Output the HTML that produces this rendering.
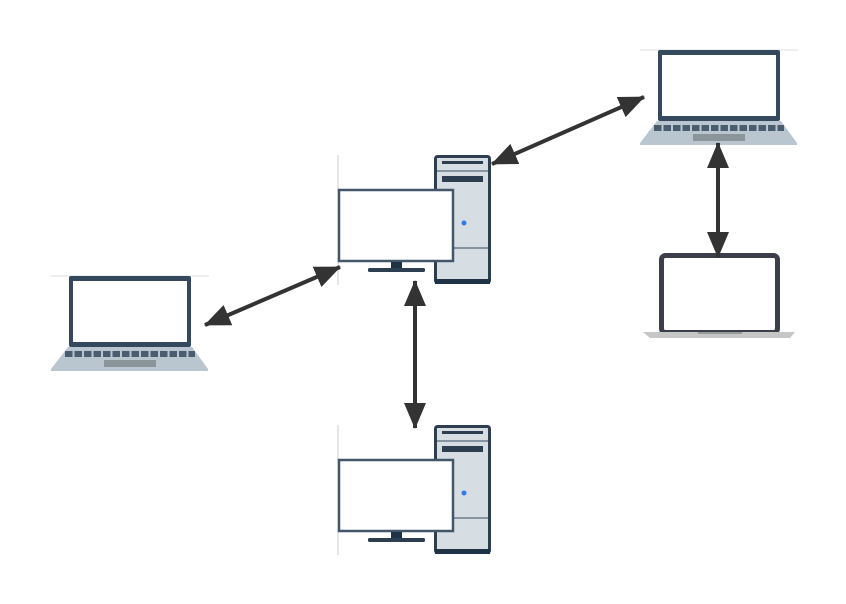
<!DOCTYPE html>
<html><head><style>html,body{margin:0;padding:0;background:#fff;}svg{display:block}</style></head>
<body>
<svg width="846" height="604" viewBox="0 0 846 604" xmlns="http://www.w3.org/2000/svg">
<defs>
<marker id="ah" markerUnits="userSpaceOnUse" markerWidth="26" markerHeight="22" refX="25" refY="11" orient="auto-start-reverse">
<path d="M0,0 L26,11 L0,22 Z" fill="#333"/>
</marker>
<g id="desk">
<line x1="-96" y1="0" x2="-96" y2="130" stroke="#ccc" stroke-width="1"/>
<rect x="1.5" y="1.5" width="54" height="126" rx="2" fill="#d6dde3" stroke="#2c3e50" stroke-width="3"/>
<rect x="1" y="124" width="55" height="5" fill="#1f3347"/>
<rect x="8" y="6" width="41" height="3" fill="#2c3e50"/>
<line x1="3" y1="16" x2="54" y2="16" stroke="#6b7c8a" stroke-width="1.5"/>
<rect x="8" y="21" width="41" height="6" fill="#2c3e50"/>
<circle cx="30" cy="68" r="2.5" fill="#2f7bf0"/>
<line x1="3" y1="93" x2="54" y2="93" stroke="#6b7c8a" stroke-width="1.5"/>
<rect x="-95" y="35" width="114" height="71" fill="#fff" stroke="#44576a" stroke-width="2.5"/>
<rect x="-43" y="107" width="11" height="8" fill="#1f3347"/>
<rect x="-66" y="113" width="57" height="4" rx="1.5" fill="#2c3e50"/>
</g>
<g id="lap">
<line x1="-18" y1="0" x2="140" y2="0" stroke="#ddd" stroke-width="1"/>
<rect x="0" y="0" width="122" height="71" rx="2" fill="#34495e"/>
<rect x="4" y="5" width="114" height="61" fill="#fff"/>
<path d="M-1,71 L123,71 L139,93 L139,95 L-18,95 L-18,93 Z" fill="#b9c6d0"/>
<line x1="-4" y1="78" x2="126" y2="78" stroke="#4a5d6e" stroke-width="6" stroke-dasharray="7.5,2"/>
<rect x="35" y="84" width="52" height="7" fill="#8a9599"/>
</g>
</defs>
<use href="#desk" x="434" y="155"/>
<use href="#desk" x="434" y="425"/>
<use href="#lap" x="658" y="50"/>
<use href="#lap" x="69" y="276"/>
<rect x="661.5" y="255.5" width="116" height="77" rx="4" fill="#fff" stroke="#3a3f4a" stroke-width="5"/>
<path d="M643,332 L795,332 L790,338 L650,338 Z" fill="#c6c6c6"/>
<rect x="698" y="332" width="44" height="2" fill="#999"/>
<g stroke="#333" stroke-width="4" fill="none">
<line x1="205" y1="325" x2="340" y2="267" marker-start="url(#ah)" marker-end="url(#ah)"/>
<line x1="492" y1="164" x2="644" y2="97" marker-start="url(#ah)" marker-end="url(#ah)"/>
<line x1="415" y1="281" x2="415" y2="428" marker-start="url(#ah)" marker-end="url(#ah)"/>
<line x1="718" y1="143" x2="718" y2="257" marker-start="url(#ah)" marker-end="url(#ah)"/>
</g>
</svg>
</body></html>
